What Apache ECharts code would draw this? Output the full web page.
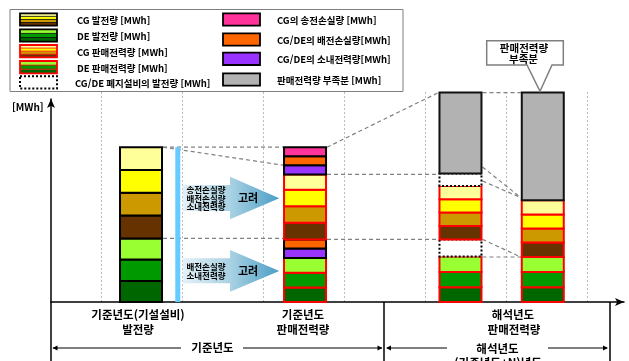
<!DOCTYPE html>
<html lang="ko">
<head>
<meta charset="utf-8">
<title>판매전력량 부족분</title>
<script src="https://cdn.jsdelivr.net/npm/echarts@6/dist/echarts.min.js"></script>
<style>
  html, body { margin: 0; padding: 0; background: #fff; }
  #chart { width: 629px; height: 361px; }
</style>
</head>
<body>
<div id="chart"></div>
<script>
// ---------- values [MWh], listed bottom → top inside each group ----------
// 기준년도(기설설비) 발전량
const deGeneration = [10.5, 10.8, 10.5];
const cgGeneration = [11.4, 11.4, 11.4, 11.4];

// 기준년도 판매전력량 (+ losses)
const deSalesBase  = [7.2, 7.4, 7.4];
const deLossesBase = [4.7, 4.6];            // 소내전력량, 배전손실량
const cgSalesBase  = [8.3, 8.3, 8.2, 7.7];
const cgLossesBase = [4.6, 4.5, 4.5];       // 소내전력량, 배전손실량, 송전손실량

// 해석년도 판매전력량 (with retired plants shown)
const deSalesTarget   = [7.4, 7.6, 7.7];
const deRetiredTarget = 8.6;
const cgSalesTarget   = [6.7, 6.7, 6.7, 6.6];
const cgRetiredTarget = 6.3;
const shortfallTarget = 40.4;

// 해석년도 판매전력량 (retired plants removed)
const deSalesFinal   = [7.4, 7.6, 7.5];
const cgSalesFinal   = [7.2, 7.0, 7.0, 7.2];
const shortfallFinal = 53.8;

// levels used by the dashed guide lines that only have a drawn position
const guideLevelsTarget = [67.5, 60.5];
const guideLevelFinal = 52.2;

// ---------- layout ----------
const columnX = [1.494, 3.519, 5.438, 6.454];   // column centres on the layout axis
const dividerX = 1.948;
const BAR_W = 42;
const HALF = BAR_W / 2 + 1;
const FONT = '"Noto Sans CJK KR", "Noto Sans", sans-serif';

const C = {
  cg: ['#663300', '#CC9900', '#FFFF00', '#FFFF99'],
  de: ['#006600', '#009900', '#99FF33'],
  own: '#9933FF', dist: '#FF6600', trans: '#FF3399',
  short: '#B2B2B2', divider: '#66CCFF'
};
const B = {
  gen:     { stroke: '#000', lineWidth: 2 },
  sales:   { stroke: '#FF0000', lineWidth: 2 },
  loss:    { stroke: '#000', lineWidth: 2 },
  retired: { stroke: '#000', lineWidth: 2, lineDash: [2, 2] },
  short:   { stroke: '#111', lineWidth: 2 },
  none:    { stroke: null, lineWidth: 0 }
};

const sum = a => a.reduce((s, v) => s + v, 0);

// ---------- stacked segments ----------
const segments = [];
function addColumn(x, parts) {
  let base = 0;
  parts.forEach(p => {
    segments.push({ x, y0: base, y1: base + p.v, fill: p.fill, border: p.border, w: p.w || BAR_W });
    base += p.v;
  });
  return base;
}
const group = (vals, fills, border) => vals.map((v, i) => ({ v, fill: fills[i], border }));

const top1 = addColumn(columnX[0], [
  ...group(deGeneration, C.de, B.gen),
  ...group(cgGeneration, C.cg, B.gen)
]);
const top2 = addColumn(columnX[1], [
  ...group(deSalesBase, C.de, B.sales),
  ...group(deLossesBase, [C.own, C.dist], B.loss),
  ...group(cgSalesBase, C.cg, B.sales),
  ...group(cgLossesBase, [C.own, C.dist, C.trans], B.loss)
]);
const top3 = addColumn(columnX[2], [
  ...group(deSalesTarget, C.de, B.sales),
  { v: deRetiredTarget, fill: '#fff', border: B.retired },
  ...group(cgSalesTarget, C.cg, B.sales),
  { v: cgRetiredTarget, fill: '#fff', border: B.retired },
  { v: shortfallTarget, fill: C.short, border: B.short }
]);
const top4 = addColumn(columnX[3], [
  ...group(deSalesFinal, C.de, B.sales),
  ...group(cgSalesFinal, C.cg, B.sales),
  { v: shortfallFinal, fill: C.short, border: B.short }
]);
addColumn(dividerX, [{ v: top1, fill: C.divider, border: B.none, w: 5 }]);

// ---------- dashed guides between columns ----------
const de1 = sum(deGeneration);
const de2 = sum(deSalesBase) + sum(deLossesBase);
const cgSales2 = de2 + sum(cgSalesBase);
const own2 = cgSales2 + cgLossesBase[0];
const de3 = sum(deSalesTarget) + deRetiredTarget;
const deSales4 = sum(deSalesFinal);

const guides = [
  [0, top1, 1, top1],
  [0, top1, 1, own2],
  [0, de1, 1, de1],
  [1, top2, 2, top3],
  [1, cgSales2, 2, cgSales2],
  [1, de2, 2, de2],
  [2, top3, 3, top4],
  [2, guideLevelsTarget[0], 3, guideLevelFinal],
  [2, guideLevelsTarget[1], 3, guideLevelFinal],
  [2, de3, 3, deSales4],
  [2, deSales4, 3, deSales4]
];

// ---------- decorations ----------
const txt = (text, x, y, size, align, extra) => Object.assign({
  type: 'text', z: 20,
  style: { text, x, y, fill: '#000', align: align || 'center', verticalAlign: 'middle',
           font: 'bold ' + size + 'px ' + FONT }
}, extra || {});

function swatch(x, y, fills, stroke, dash) {
  const w = 37, h = 12.3, els = [];
  const sh = h / Math.max(fills.length, 1);
  fills.forEach((f, i) => els.push({ type: 'rect', z: 20, shape: { x, y: y + i * sh, width: w, height: sh }, style: { fill: f } }));
  for (let i = 1; i < fills.length; i++) {
    els.push({ type: 'line', z: 20, shape: { x1: x, y1: y + i * sh, x2: x + w, y2: y + i * sh }, style: { stroke, lineWidth: 0.8 } });
  }
  els.push({ type: 'rect', z: 21, shape: { x, y, width: w, height: h },
             style: { fill: fills.length ? null : '#fff', stroke, lineWidth: dash ? 2 : 1.8, lineDash: dash || null } });
  return els;
}

const legendLeft = [
  { t: 'CG 발전량 [MWh]', f: C.cg.slice().reverse(), s: '#000', y: 13.3 },
  { t: 'DE 발전량 [MWh]', f: C.de.slice().reverse(), s: '#000', y: 29.3 },
  { t: 'CG 판매전력량 [MWh]', f: C.cg.slice().reverse(), s: '#FF0000', y: 45 },
  { t: 'DE 판매전력량 [MWh]', f: C.de.slice().reverse(), s: '#FF0000', y: 61 },
  { t: 'CG/DE 폐지설비의 발전량 [MWh]', f: [], s: '#000', y: 76.3, d: [2, 2] }
];
const legendRight = [
  { t: 'CG의 송전손실량 [MWh]', f: [C.trans], y: 13.3 },
  { t: 'CG/DE의 배전손실량[MWh]', f: [C.dist], y: 33.3 },
  { t: 'CG/DE의 소내전력량[MWh]', f: [C.own], y: 52.7 },
  { t: '판매전력량 부족분 [MWh]', f: [C.short], y: 73.3 }
];

const graphics = [
  { type: 'rect', z: 19, shape: { x: 10, y: 9.5, width: 393, height: 82 }, style: { fill: '#fff', stroke: '#7F7F7F', lineWidth: 1 } }
];
legendLeft.forEach(r => {
  graphics.push(...swatch(20, r.y, r.f, r.s, r.d));
  graphics.push(txt(r.t, r.d ? 75 : 77, r.y + 7.2, 9.5, 'left'));
});
legendRight.forEach(r => {
  graphics.push(...swatch(223, r.y, r.f, '#000'));
  graphics.push(txt(r.t, 277, r.y + 7, 9.5, 'left'));
});

graphics.push(txt('[MWh]', 12, 107, 10, 'left'));

// arrows "고려"
const arrowFill = { type: 'linear', x: 0, y: 0, x2: 1, y2: 0,
  colorStops: [{ offset: 0, color: '#E4F1F7' }, { offset: 0.5, color: '#A8D1E3' }, { offset: 1, color: '#4A9EC5' }] };
function bigArrow(yTop, yBot, headTop, headBot, tipY) {
  return { type: 'polygon', z: 15, shape: { points: [
    [182.7, yTop], [230, yTop], [230, headTop], [279.3, tipY], [230, headBot], [230, yBot], [182.7, yBot]
  ] }, style: { fill: arrowFill } };
}
graphics.push(bigArrow(185, 211, 176.7, 219.3, 198.3));
graphics.push(bigArrow(258.3, 283.3, 250, 291.7, 271));
graphics.push(txt('송전손실량', 206, 190, 8.5));
graphics.push(txt('배전손실량', 206, 198.3, 8.5));
graphics.push(txt('소내전력량', 206, 206.6, 8.5));
graphics.push(txt('고려', 248, 198.3, 11));
graphics.push(txt('배전손실량', 206, 267, 8.5));
graphics.push(txt('소내전력량', 206, 275.8, 8.5));
graphics.push(txt('고려', 248, 271, 11));

// callout
graphics.push({ type: 'polygon', z: 15, shape: { points: [
  [486.7, 40.7], [563.3, 40.7], [563.3, 65], [552, 65], [540, 91.3], [527, 65], [486.7, 65]
] }, style: { fill: '#fff', stroke: '#7F7F7F', lineWidth: 1.5 } });
graphics.push(txt('판매전력량', 524, 47.6, 10.5));
graphics.push(txt('부족분', 523.5, 58.6, 10.5));

// category captions
graphics.push(txt('기준년도(기설설비)', 138, 314.5, 11.5));
graphics.push(txt('발전량', 138, 329.5, 11.5));
graphics.push(txt('기준년도', 303, 314.5, 11.5));
graphics.push(txt('판매전력량', 303, 329.5, 11.5));
graphics.push(txt('해석년도', 513, 315, 11.5));
graphics.push(txt('판매전력량', 514, 329.5, 11.5));

// period brackets
const line = (x1, y1, x2, y2, w) => ({ type: 'line', z: 15, shape: { x1, y1, x2, y2 }, style: { stroke: '#000', lineWidth: w || 1 } });
const head = (tip, dir) => ({ type: 'polygon', z: 15, shape: { points: [[tip, 348], [tip - dir * 5, 345.6], [tip - dir * 5, 350.4]] }, style: { fill: '#000' } });
graphics.push(line(51, 302, 51, 361, 1.5), line(384, 302, 384, 361, 1.5), line(610, 302, 610, 361, 1.5));
graphics.push(line(53, 348, 181, 348), line(243, 348, 382, 348), head(52.5, -1), head(382.5, 1));
graphics.push(line(387, 348, 447, 348), line(548, 348, 607, 348), head(386, -1), head(608, 1));
graphics.push(txt('기준년도', 212.5, 348, 11.5));
graphics.push(txt('해석년도', 497.5, 348.5, 11.5));
graphics.push(txt('(기준년도+N)년도', 498, 363, 11.5));

// ---------- chart ----------
const chart = echarts.init(document.getElementById('chart'), null, { renderer: 'canvas' });
const hidden = { axisTick: { show: false }, axisLabel: { show: false }, splitLine: { show: false } };
const arrowAxisLine = { show: true, symbol: ['none', 'arrow'], symbolSize: [6, 9], lineStyle: { color: '#000', width: 1.5 } };

chart.setOption({
  animation: false,
  backgroundColor: '#fff',
  grid: [
    { left: 51, right: 5, top: 99, bottom: 59 },
    { left: 20, right: 1.5, top: 92, bottom: 59 }
  ],
  xAxis: [
    Object.assign({ gridIndex: 0, type: 'value', min: 0, max: 1, axisLine: arrowAxisLine }, hidden),
    { gridIndex: 1, type: 'value', min: 0, max: 7.5, interval: 1,
      axisLine: { show: false }, axisTick: { show: false }, axisLabel: { show: false },
      splitLine: { show: true, showMinLine: false, showMaxLine: false,
                   lineStyle: { color: '#BDBDBD', type: [2, 2], width: 1 } } }
  ],
  yAxis: [
    Object.assign({ gridIndex: 0, type: 'value', min: 0, max: 1, axisLine: arrowAxisLine }, hidden),
    { gridIndex: 1, type: 'value', min: 0, max: 105, show: false }
  ],
  series: [
    {
      type: 'custom', name: 'guides', xAxisIndex: 1, yAxisIndex: 1, silent: true, z: 2,
      encode: { x: [0, 2], y: [1, 3] },
      data: guides.map(g => [columnX[g[0]], g[1], columnX[g[2]], g[3]]),
      renderItem(params, api) {
        const a = api.coord([api.value(0), api.value(1)]);
        const b = api.coord([api.value(2), api.value(3)]);
        return { type: 'line', shape: { x1: a[0] + HALF, y1: a[1], x2: b[0] - HALF, y2: b[1] },
                 style: { stroke: '#808080', lineWidth: 1.2, lineDash: [4, 3] } };
      }
    },
    {
      type: 'custom', name: 'segments', xAxisIndex: 1, yAxisIndex: 1, silent: true, z: 3,
      encode: { x: 0, y: [1, 2] },
      data: segments.map(s => [s.x, s.y0, s.y1]),
      renderItem(params, api) {
        const s = segments[params.dataIndex];
        const t = api.coord([api.value(0), api.value(2)]);
        const b = api.coord([api.value(0), api.value(1)]);
        return { type: 'rect',
                 shape: { x: t[0] - s.w / 2, y: t[1], width: s.w, height: b[1] - t[1] },
                 style: { fill: s.fill, stroke: s.border.stroke, lineWidth: s.border.lineWidth,
                          lineDash: s.border.lineDash || null } };
      }
    }
  ],
  graphic: { elements: graphics }
});
</script>
</body>
</html>
